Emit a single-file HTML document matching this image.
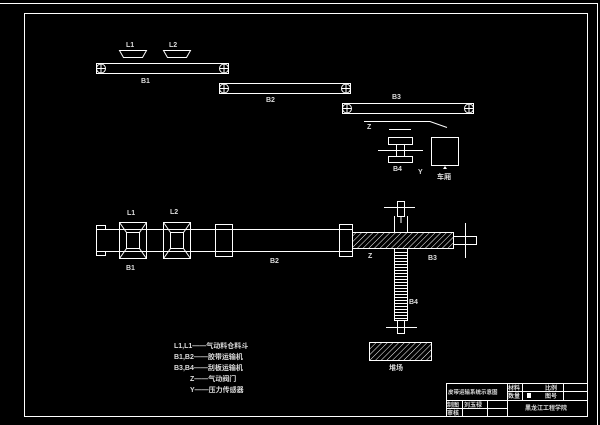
<!DOCTYPE html>
<html><head><meta charset="utf-8"><style>
html,body{margin:0;padding:0;background:#000;width:600px;height:425px;overflow:hidden}
svg{display:block}
text{font-family:"Liberation Sans","Noto Sans CJK SC",sans-serif;fill:#ddd;font-size:7px;font-weight:bold}
</style></head><body>
<svg width="600" height="425" viewBox="0 0 600 425">
<defs>
<pattern id="h" width="4" height="4" patternUnits="userSpaceOnUse" patternTransform="rotate(45)">
<line x1="0" y1="0" x2="0" y2="4" stroke="#fff" stroke-width="1"/>
</pattern>
</defs>
<g stroke="#fff" stroke-width="1" fill="none">
<rect x="-2" y="3.5" width="599.5" height="430"/>
<rect x="24.5" y="13.5" width="563" height="403"/>
<polygon points="119.5,50.5 146.5,50.5 142.5,57.5 123.5,57.5"/>
<polygon points="163.5,50.5 190.5,50.5 186.5,57.5 167.5,57.5"/>
<rect x="96.5" y="63.5" width="132" height="10"/>
<circle cx="101" cy="68.5" r="4.5"/><path d="M96.5 68.5h9M101 64v9"/>
<circle cx="224" cy="68.5" r="4.5"/><path d="M219.5 68.5h9M224 64v9"/>
<rect x="219.5" y="83.5" width="131" height="10"/>
<circle cx="224" cy="88.5" r="4.5"/><path d="M219.5 88.5h9M224 84v9"/>
<circle cx="346" cy="88.5" r="4.5"/><path d="M341.5 88.5h9M346 84v9"/>
<rect x="342.5" y="103.5" width="131" height="10"/>
<circle cx="347" cy="108.5" r="4.5"/><path d="M342.5 108.5h9M347 104v9"/>
<circle cx="469" cy="108.5" r="4.5"/><path d="M464.5 108.5h9M469 104v9"/>
<path d="M364 121.5h66l17 6"/>
<path d="M389 129.5h22"/>
<rect x="388.5" y="137.5" width="24" height="7"/>
<rect x="388.5" y="156.5" width="24" height="6"/>
<rect x="396.5" y="144.5" width="8" height="12"/>
<path d="M378 150.5h45"/>
<rect x="431.5" y="137.5" width="27" height="28"/>
<rect x="96.5" y="229.5" width="256" height="22"/>
<rect x="96.5" y="225.5" width="9" height="4"/><rect x="96.5" y="251.5" width="9" height="4"/>
<rect x="119.5" y="222.5" width="27" height="36"/>
<rect x="126.5" y="232.5" width="13" height="16"/>
<path d="M119.5 222.5l7 10M146.5 222.5l-7 10M119.5 258.5l7-10M146.5 258.5l-7-10"/>
<rect x="163.5" y="222.5" width="27" height="36"/>
<rect x="170.5" y="232.5" width="13" height="16"/>
<path d="M163.5 222.5l7 10M190.5 222.5l-7 10M163.5 258.5l7-10M190.5 258.5l-7-10"/>
<rect x="215.5" y="224.5" width="17" height="32"/>
<rect x="339.5" y="224.5" width="13" height="32"/>
<rect x="352.5" y="232.5" width="101" height="16" fill="url(#h)"/>
<rect x="453.5" y="236.5" width="23" height="8"/>
<path d="M465.5 223v35"/>
<path d="M394.5 216v16M407.5 216v16"/>
<rect x="394.5" y="248.5" width="13" height="72"/>
<path d="M394.5 252.5h13M394.5 255.5h13M394.5 258.5h13M394.5 261.5h13M394.5 264.5h13M394.5 267.5h13M394.5 270.5h13M394.5 273.5h13M394.5 276.5h13M394.5 279.5h13M394.5 282.5h13M394.5 285.5h13M394.5 288.5h13M394.5 291.5h13M394.5 294.5h13M394.5 297.5h13M394.5 300.5h13M394.5 303.5h13M394.5 306.5h13M394.5 309.5h13M394.5 312.5h13M394.5 315.5h13M394.5 318.5h13"/>
<rect x="397.5" y="201.5" width="7" height="15"/>
<path d="M384 207.5h31M401 216v7"/>
<rect x="397.5" y="320.5" width="7" height="13"/>
<path d="M386 327.5h31"/>
<rect x="369.5" y="342.5" width="62" height="18" fill="url(#h)"/>
<rect x="446.5" y="383.5" width="141" height="33"/>
<path d="M446.5 400.5h61M507.5 391.5h80M446.5 408.5h61M507.5 383.5v33M522.5 383.5v17M563.5 383.5v17M462.5 400.5v16M487.5 400.5v16M507.5 400.5h80"/>
</g>
<rect x="527" y="393" width="4" height="5" fill="#fff"/>
<polygon points="445,166 443,169 447,169" fill="#fff"/>
<text x="126" y="47">L1</text><text x="169" y="47">L2</text>
<text x="141" y="83">B1</text><text x="266" y="102">B2</text><text x="392" y="99">B3</text>
<text x="367" y="129">Z</text><text x="393" y="171">B4</text><text x="418" y="174">Y</text>
<text x="437" y="179">车厢</text>
<text x="127" y="215">L1</text><text x="170" y="214">L2</text>
<text x="126" y="270">B1</text><text x="270" y="263">B2</text>
<text x="368" y="258">Z</text><text x="428" y="260">B3</text><text x="409" y="304">B4</text>
<text x="389" y="370">堆场</text>
<text x="174" y="348">L1,L1——气动料仓料斗</text>
<text x="174" y="359">B1,B2——胶带运输机</text>
<text x="174" y="370">B3,B4——刮板运输机</text>
<text x="190" y="381">Z——气动阀门</text>
<text x="190" y="392">Y——压力传感器</text>
<text x="448" y="394" style="font-size:5.5px">皮带运输系统示意图</text>
<text x="508" y="390" style="font-size:6px">材料</text><text x="508" y="398" style="font-size:6px">数量</text>
<text x="545" y="390" style="font-size:6px">比例</text><text x="545" y="398" style="font-size:6px">图号</text>
<text x="447" y="407" style="font-size:6px">制图</text><text x="447" y="415" style="font-size:6px">审核</text>
<text x="464" y="407" style="font-size:6px">刘玉禄</text>
<text x="525" y="410" style="font-size:6px">黑龙江工程学院</text>
</svg>
</body></html>
